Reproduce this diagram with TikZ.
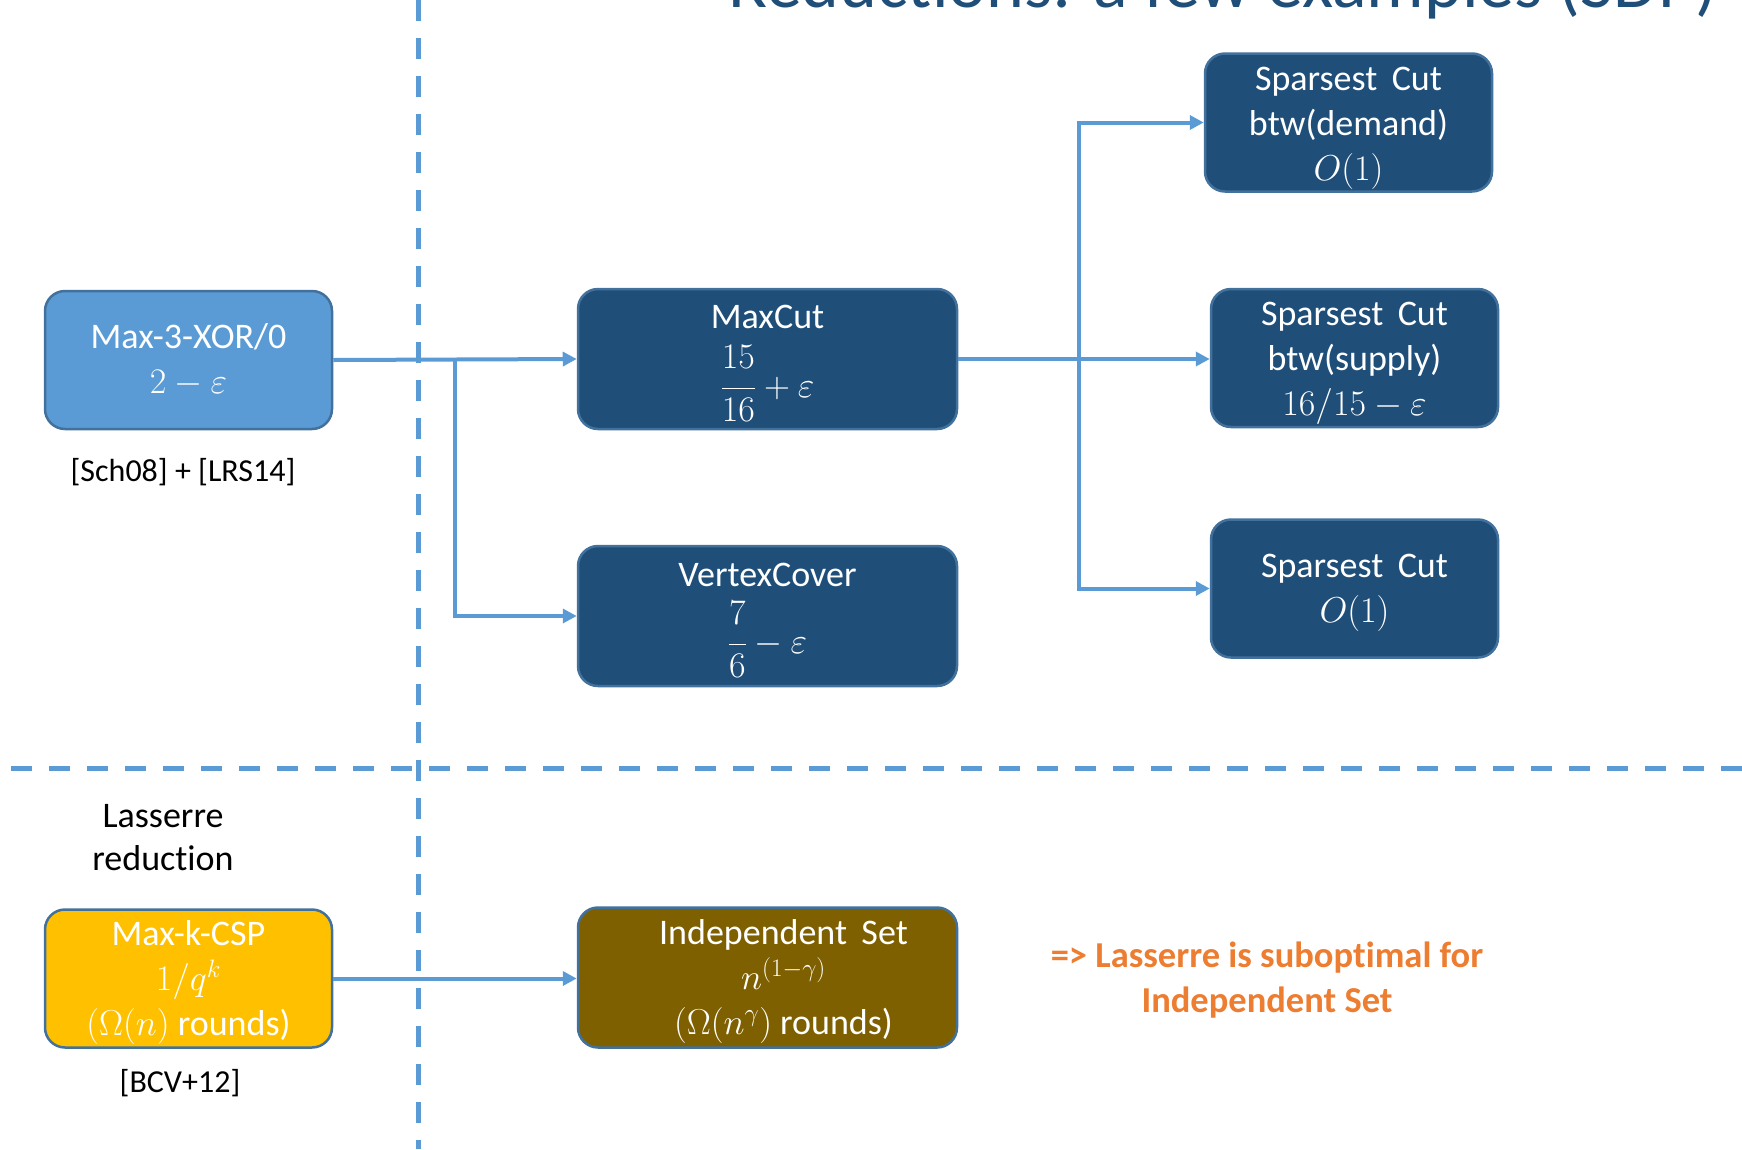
\RequirePackage{fix-cm}
\documentclass[tikz,border=0pt]{standalone}
\usepackage{amsmath}
\usepackage[no-math]{fontspec}
\setmainfont{Carlito}[Ligatures=NoCommon]
\usetikzlibrary{arrows.meta}
\definecolor{dkblue}{HTML}{1F4E79}
\definecolor{ltblue}{HTML}{5B9BD5}
\definecolor{edgeblue}{HTML}{41719C}
\definecolor{goldfill}{HTML}{FFC000}
\definecolor{brownfill}{HTML}{7F6000}
\definecolor{orangetxt}{HTML}{ED7D31}
\newcommand\numstrut{\vrule width0pt depth16pt height0pt}
\newcommand\topstrut[1]{\vrule width0pt height#1 depth0pt}
\begin{document}
\begin{tikzpicture}[x=1pt,y=-1pt,
  box/.style={draw=edgeblue,line width=2.5pt,rounded corners=20pt,minimum width=287pt,minimum height=138pt,text=white,align=center,font=\fontsize{36}{45}\selectfont,inner sep=0pt},
  wide/.style={minimum width=379pt,minimum height=140pt},
  boxtext/.style={text=white,align=center,font=\fontsize{36}{45}\selectfont,inner sep=0pt},
  arr/.style={draw=ltblue,line width=4pt,-{Triangle[length=14pt,width=14pt]}},
  divider/.style={draw=ltblue,line width=5pt,dash pattern=on 21pt off 17pt},
  captxt/.style={text=black,align=center,font=\fontsize{32}{40}\selectfont,inner sep=0pt},
  lastxt/.style={text=black,align=center,font=\fontsize{36}{43}\selectfont,inner sep=0pt},
  conctxt/.style={text=orangetxt,align=center,font=\bfseries\fontsize{36.5}{45}\selectfont,inner sep=0pt}
]
\useasboundingbox (0,0) rectangle (1742,1149);
\begin{scope}
\clip (0,0) rectangle (1742,1149);
\node[anchor=base west,font=\fontsize{72}{80}\selectfont,text=dkblue,inner sep=0pt] (title) at (728,7) {Reductions: a few examples (SDP)};
\end{scope}

% boxes
\node[box,fill=ltblue] (xor) at (188.5,360) {Max-3-XOR/0\\$2-\varepsilon$};
\node[captxt] (ref1) at (183,472) {[Sch08] + [LRS14]};
\node[box,wide,fill=dkblue] (mc) at (767.5,359) {\topstrut{32pt}MaxCut\\[16pt]$\dfrac{15\numstrut}{16}+\varepsilon$};
\node[box,wide,fill=dkblue] (vc) at (767.5,616) {\topstrut{32pt}VertexCover\\[14pt]$\dfrac{7\numstrut}{6}-\varepsilon$};
\node[box,fill=dkblue] (sc1) at (1348.5,122.5) {\topstrut{35pt}Sparsest\hspace{.4em}Cut\\btw(demand)\\$O(1)$};
\node[box,fill=dkblue] (sc2) at (1354.5,358) {\topstrut{34pt}Sparsest\hspace{.4em}Cut\\btw(supply)\\$16/15-\varepsilon$};
\node[box,fill=dkblue] (sc3) at (1354.5,588.5) {\topstrut{32pt}Sparsest\hspace{.4em}Cut\\$O(1)$};
\node[lastxt] (las) at (163,838) {Lasserre\\reduction};
\node[box,fill=goldfill] (csp) at (188.5,978.5) {\topstrut{33pt}Max-k-CSP\\$1/q^k$\\$(\Omega(n)$ rounds)};
\node[captxt] (ref2) at (180,1083) {[BCV+12]};
\node[box,wide,fill=brownfill] (is) at (767.5,977.5) {};
\node[boxtext] (ist) at (783.5,981.5) {Independent\hspace{.4em}Set\\$n^{(1-\gamma)}$\\$(\Omega(n^{\gamma})$ rounds)};
\node[conctxt] (concl) at (1267,980) {=> Lasserre is suboptimal for\\Independent Set};

% connectors
\coordinate (j1) at (455,358);
\coordinate (j2) at (1079,359);
\draw[arr] (xor.east) -- (mc.west);
\draw[arr] (j1) |- (vc.west);
\draw[arr] (mc.east) -- (mc.east -| sc2.west);
\draw[arr] (j2) |- (sc1.west);
\draw[arr] (j2) |- (sc3.west);
\draw[arr] (csp.east) -- (csp.east -| is.west);

% dividers
\coordinate (vt) at (418,0);
\coordinate (vb) at (418,1149);
\coordinate (hl) at (11,768);
\coordinate (hr) at (1742,768);
\draw[divider] (vt) -- (vb);
\draw[divider] (hl) -- (hr);
\end{tikzpicture}
\end{document}
